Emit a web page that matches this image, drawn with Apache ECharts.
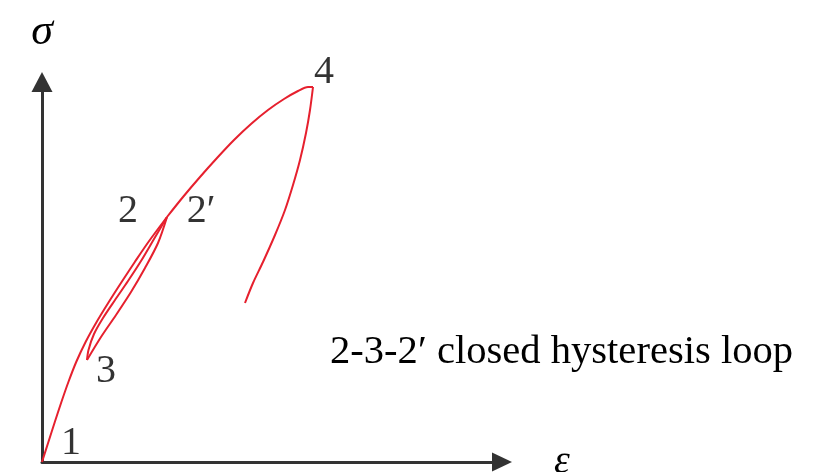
<!DOCTYPE html>
<html>
<head>
<meta charset="utf-8">
<script src="https://cdn.jsdelivr.net/npm/echarts@6/dist/echarts.min.js"></script>
<style>
  html, body { margin: 0; padding: 0; background: #fff; }
  #chart { width: 818px; height: 472px; }
</style>
</head>
<body>
<div id="chart"></div>
<script>
// Stress–strain path (arbitrary units): initial loading, unload/reload loop, loading to peak, unloading
const loading12 = [[0,0],[0.64,2],[1.28,4],[1.94,6],[2.64,8],[3.42,10],[4.36,12],[5.46,14],[6.68,16],[7.96,18],[9.28,20],[10.64,22],[12.5,24.5]];
const unload23 = [[12.5,24.5],[11.6,21.9],[10.3,19.4],[8.9,17.0],[7.4,14.7],[5.9,12.5],[4.5,10.2]];
const reload32 = [[4.5,10.2],[4.65,11.2],[5.2,12.8],[6.1,14.4],[7.3,16.2],[8.6,18.1],[9.9,20.1],[11.2,22.3],[12.5,24.5]];
const loading24 = [[12.5,24.5],[14.1,26.5],[15.8,28.5],[17.5,30.4],[19.2,32.2],[20.9,33.8],[22.6,35.2],[24.2,36.3],[25.6,37.1],[26.6,37.5],[27.1,37.5]];
const unload4 = [[27.1,37.5],[26.8,35.2],[26.4,32.9],[25.8,30.2],[25.1,27.7],[24.3,25.2],[23.3,22.7],[22.1,20.0],[21.1,17.9],[20.3,15.9]];

// Named states along the path
const pointNames = ['1', '2', '2′', '3', '4'];
const pointValues = [[0,0],[12.5,24.5],[12.5,24.5],[4.5,10.2],[27.1,37.5]];
const pointLabelOffsets = [[29,-19],[-39,-6],[34,-6],[19,11],[11,-15]];

const note = '2-3-2′ closed hysteresis loop';

const red = '#e6202e';
const serif = '"Liberation Serif", "DejaVu Serif", serif';

function pathSeries(data) {
  return {
    type: 'line',
    data: data,
    smooth: 0.3,
    showSymbol: false,
    symbol: 'none',
    lineStyle: { color: red, width: 2 },
    silent: true,
    z: 3
  };
}

const chart = echarts.init(document.getElementById('chart'));
chart.setOption({
  animation: false,
  backgroundColor: '#ffffff',
  grid: { left: 42, top: 82, width: 460, height: 380, containLabel: false, outerBoundsMode: 'none' },
  xAxis: {
    type: 'value', min: 0, max: 46,
    name: 'ε', nameLocation: 'end', nameGap: 52,
    nameTextStyle: { fontFamily: serif, fontStyle: 'italic', fontSize: 40, color: '#000' },
    axisLine: { show: true, symbol: ['none', 'triangle'], symbolSize: [19, 20],
      lineStyle: { color: '#333', width: 3 } },
    axisTick: { show: false }, axisLabel: { show: false }, splitLine: { show: false }
  },
  yAxis: {
    type: 'value', min: 0, max: 38,
    name: 'σ', nameLocation: 'end', nameGap: 28,
    nameTextStyle: { fontFamily: serif, fontStyle: 'italic', fontSize: 44, color: '#000', align: 'center' },
    axisLine: { show: true, symbol: ['none', 'triangle'], symbolSize: [21, 20],
      lineStyle: { color: '#333', width: 3 } },
    axisTick: { show: false }, axisLabel: { show: false }, splitLine: { show: false }
  },
  series: [
    pathSeries(loading12),
    pathSeries(unload23),
    pathSeries(reload32),
    pathSeries(loading24),
    pathSeries(unload4),
    {
      type: 'scatter',
      symbolSize: 0,
      silent: true,
      z: 4,
      data: pointNames.map((n, i) => ({
        value: pointValues[i],
        name: n,
        label: { offset: pointLabelOffsets[i] }
      })),
      label: {
        show: true,
        position: 'inside',
        formatter: p => p.name,
        fontFamily: serif,
        fontSize: 40,
        color: '#000'
      }
    }
  ],
  graphic: [{
    type: 'text',
    left: 330,
    top: 332,
    style: { text: note, font: '40.6px ' + serif, fill: '#000' }
  }]
});
</script>
</body>
</html>
